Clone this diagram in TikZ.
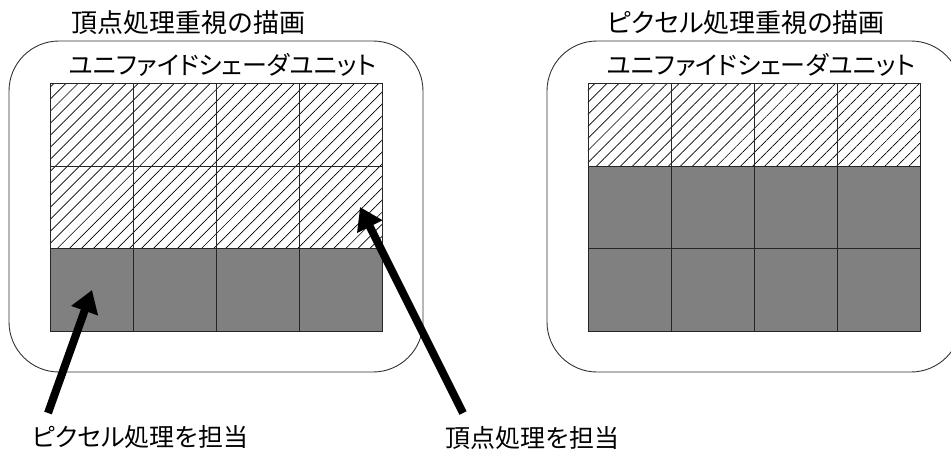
\documentclass[tikz,border=0pt]{standalone}
\usepackage{fontspec}
\newfontfamily\jp[RawFeature=+palt]{Noto Sans CJK JP}
\newfontfamily\jpfull{Noto Sans CJK JP}
\usetikzlibrary{patterns.meta,arrows.meta}
\begin{document}
\begin{tikzpicture}[x=1pt,y=-1pt,
  txt/.style={font=\jp\fontsize{25}{25}\selectfont, inner sep=0pt, anchor=center},
  ttl/.style={font=\jp\fontsize{26}{26}\selectfont, inner sep=0pt, anchor=center},
  outer/.style={draw=black!80, line width=0.9pt, rounded corners=50pt},
  hcell/.style={draw=black!85, line width=0.9pt, pattern={Lines[angle=45,distance=8.5pt,line width=0.7pt]}},
  gcell/.style={draw=black!85, line width=0.9pt, fill=black!50},
  bigarrow/.style={line width=8pt, -{Triangle[length=22pt,width=27pt]}}]
\useasboundingbox (0,0) rectangle (951,450);
\begin{scope}
\clip (0,0) rectangle (951,450);
\draw[outer] (9,41) rectangle (423,372);
\draw[outer] (547,41) rectangle (961,372);
\end{scope}
% titles
\node[ttl, font=\jpfull\fontsize{26}{26}\selectfont] (t1) at (188.5,23) {頂点処理重視の描画};
\node[ttl] (t2) at (746,23) {ピクセル処理重視の描画};
\node[txt] (s1) at (222.5,65) {ユニファイドシェーダユニット};
\node[txt] (s2) at (761,65) {ユニファイドシェーダユニット};
% left grid
\foreach \c in {0,1,2,3}{
  \foreach \r in {0,1}{
    \node[hcell, minimum width=83pt, minimum height=82.7pt, inner sep=0pt, anchor=north west] (L\r\c) at (50+83*\c, 83+82.7*\r) {};
  }
  \node[gcell, minimum width=83pt, minimum height=82.7pt, inner sep=0pt, anchor=north west] (L2\c) at (50+83*\c, 83+82.7*2) {};
}
% right grid
\foreach \c in {0,1,2,3}{
  \node[hcell, minimum width=83pt, minimum height=82.7pt, inner sep=0pt, anchor=north west] (R0\c) at (587.5+83*\c, 83) {};
  \foreach \r in {1,2}{
    \node[gcell, minimum width=83pt, minimum height=82.7pt, inner sep=0pt, anchor=north west] (R\r\c) at (587.5+83*\c, 83+82.7*\r) {};
  }
}
% labels
\node[txt] (p1) at (140,437) {ピクセル処理を担当};
\node[txt] (p2) at (532.5,438) {頂点処理を担当};
\coordinate (a1s) at (48,413);
\coordinate (a1e) at (92,290);
\coordinate (a2s) at (463,413);
\coordinate (a2e) at (360,207);
\draw[bigarrow] (a1s) -- (a1e);
\draw[bigarrow] (a2s) -- (a2e);
\end{tikzpicture}
\end{document}
